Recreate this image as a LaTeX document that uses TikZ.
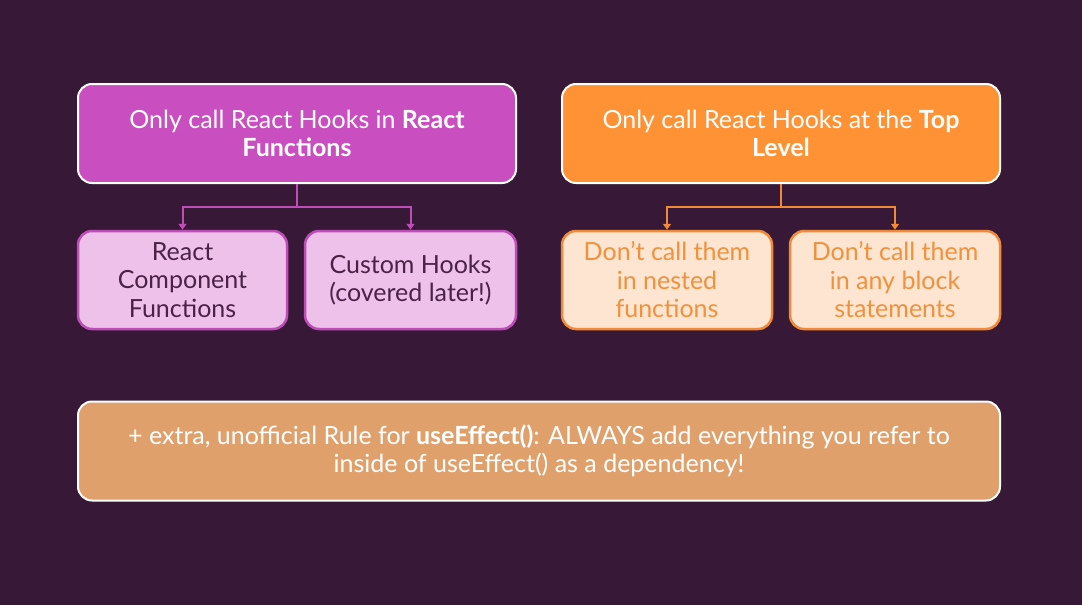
\documentclass[tikz,border=0pt]{standalone}
\usepackage{fontspec}
\setmainfont{Lato}
\usetikzlibrary{arrows.meta}
\definecolor{bg}{HTML}{371937}
\definecolor{mag}{HTML}{C94FC0}
\definecolor{magl}{HTML}{EEC1EA}
\definecolor{magb}{HTML}{BF4DB7}
\definecolor{magt}{HTML}{4A2246}
\definecolor{ora}{HTML}{FF9234}
\definecolor{oral}{HTML}{FDE5D1}
\definecolor{orab}{HTML}{F08A38}
\definecolor{orat}{HTML}{F0913C}
\definecolor{tan}{HTML}{E0A06B}
\tikzset{
  mainbox/.style={rounded corners=14pt, draw=white, line width=2pt, align=center, text=white, font=\fontsize{25}{28}\selectfont, minimum height=99pt, inner sep=0pt},
  subbox/.style={rounded corners=14pt, line width=2.5pt, align=center, font=\fontsize{25}{28.5}\selectfont, minimum height=98pt, inner sep=0pt},
  magsub/.style={subbox, fill=magl, draw=magb, text=magt, minimum width=209pt},
  orasub/.style={subbox, fill=oral, draw=orab, text=orat, minimum width=210pt},
  conn/.style={line width=2pt},
  arr/.style={conn, -{Triangle[width=8pt,length=6pt]}},
}
\begin{document}
\begin{tikzpicture}[x=1pt,y=-1pt]
\fill[bg] (0,0) rectangle (1082,605);
\useasboundingbox (0,0) rectangle (1082,605);
\node[mainbox, fill=mag, minimum width=438pt] (tl) at (297,133.5) {Only call React Hooks in \textbf{React}\\\textbf{Functions}};
\node[mainbox, fill=ora, minimum width=438pt] (tr) at (781,133.5) {Only call React Hooks at the \textbf{Top}\\\textbf{Level}};
\node[magsub] (s1) at (182.5,280) {React\\Component\\Functions};
\node[magsub, minimum width=211pt] (s2) at (410.5,280) {Custom Hooks\\(covered later!)};
\node[orasub] (s3) at (667,280) {Don’t call them\\in nested\\functions};
\node[orasub] (s4) at (895,280) {Don’t call them\\in any block\\statements};
\node[mainbox, fill=tan, minimum width=922pt] (bt) at (539,451) {+ extra, unofficial Rule for \textbf{useEffect()}: ALWAYS add everything you refer to\\inside of useEffect() as a dependency!};
\coordinate (j1) at (297,207);
\coordinate (j2) at (781,207);
\draw[conn, magb] (tl.south) -- (j1);
\draw[arr, magb] (j1) -| (s1.north);
\draw[arr, magb] (j1) -| (s2.north);
\draw[conn, orab] (tr.south) -- (j2);
\draw[arr, orab] (j2) -| (s3.north);
\draw[arr, orab] (j2) -| (s4.north);
\end{tikzpicture}
\end{document}
